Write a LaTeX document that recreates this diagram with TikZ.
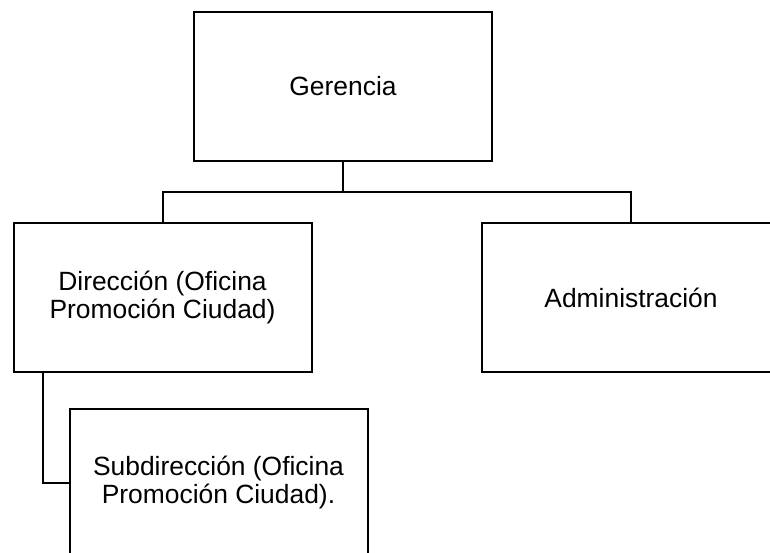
\documentclass[tikz,border=0pt]{standalone}
\usepackage{fontspec}
\setmainfont{Liberation Sans}
\usepackage{tikz}

\begin{document}
\begin{tikzpicture}[x=0.5pt,y=-0.5pt,
        unit/.style={draw,line width=1pt,inner sep=0pt,align=center,
            minimum width=149pt,minimum height=74.5pt,
            font=\fontsize{13.2}{14}\selectfont},
        link/.style={line width=1pt}]
        \useasboundingbox (0,0) rectangle (770,552);

        % Boxes
        \node [unit] (ger) at (343,86) {Gerencia};
        \node [unit] (dir) at (162.5,297.5) {Dirección (Oficina\\Promoción Ciudad)};
        \node [unit] (adm) at (631,297.5) {Administración};
        \node [unit] (sub) at (218.5,483) {Subdirección (Oficina\\Promoción Ciudad).};

        % Connectors
        \coordinate (bus) at (343,192);
        \coordinate (dirfoot) at (43,372);
        \draw [link] (ger.south) -- (bus);
        \draw [link] (dir.north) |- (bus) -| (adm.north);
        \draw [link] (dirfoot) |- (sub.west);

    \end{tikzpicture}
\end{document}
